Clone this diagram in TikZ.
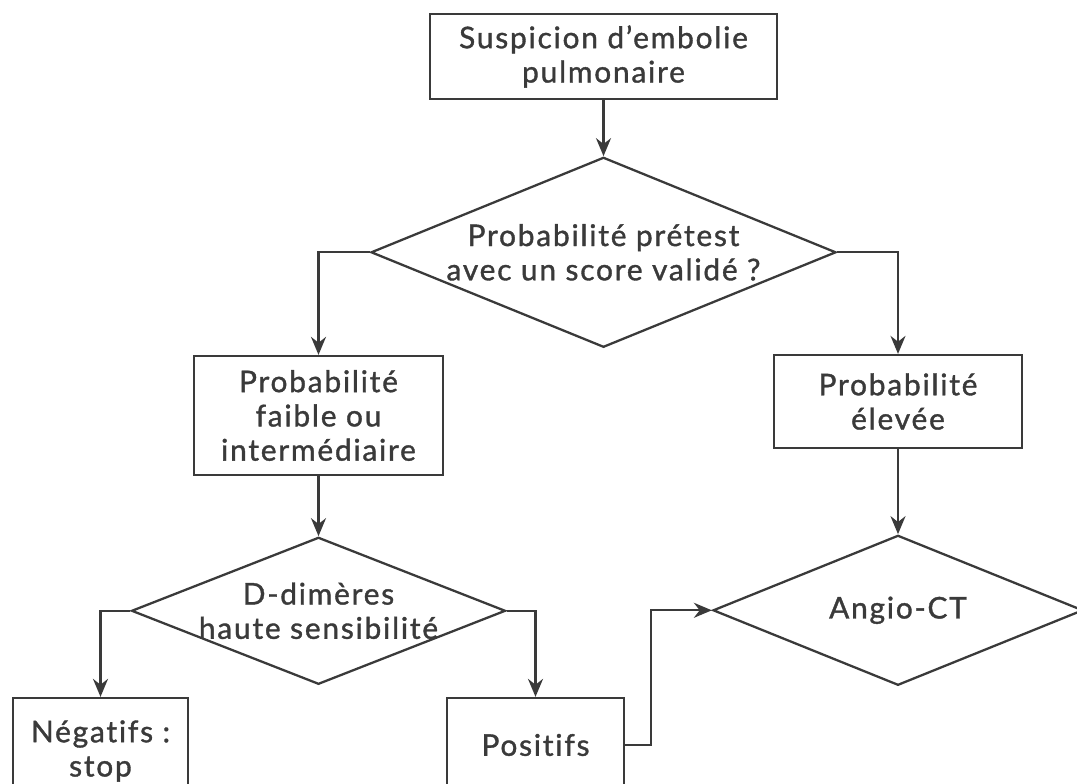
\documentclass[tikz,border=0pt]{standalone}
\usepackage{fontspec}
\setmainfont{Lato}[Ligatures=NoCommon, LetterSpace=6, FakeBold=1.2]
\usetikzlibrary{arrows.meta,positioning,shapes.geometric}

\definecolor{trait}{HTML}{3A3A3A}

\begin{document}
\begin{tikzpicture}[
        font=\fontsize{17}{19.5}\selectfont,
        etape/.style={draw=trait, line width=1.3pt, align=center, text=trait, inner sep=2pt},
        decision/.style={draw=trait, line width=1.3pt, diamond, align=center, text=trait, inner xsep=-18pt, inner ysep=0pt},
        fleche/.style={-{Stealth[length=3.6mm, width=3mm]}, draw=trait, line width=1.3pt}
    ]
        \useasboundingbox (0,0) rectangle (21.54,-15.66);
        \clip (0,0) rectangle (21.54,-15.66);

        \node[etape, minimum width=6.94cm, minimum height=1.7cm] (susp) at (12.07,-1.13) {Suspicion d’embolie\\pulmonaire};
        \node[decision, minimum width=9.3cm, minimum height=3.8cm, aspect=2.45, below=1.12cm of susp] (prob) {Probabilité prétest\\avec un score validé~?};

        \node[etape, minimum width=4.98cm, minimum height=2.38cm] (faible) at (6.37,-8.31) {Probabilité\\faible ou\\intermédiaire};
        \node[etape, minimum width=4.96cm, minimum height=1.86cm] (elevee) at (17.96,-8.03) {Probabilité\\élevée};

        \node[decision, minimum width=7.48cm, minimum height=2.94cm, aspect=2.54, below=1.2cm of faible] (ddim) {D-dimères\\haute sensibilité};
        \node[decision, minimum width=7.4cm, minimum height=3cm, aspect=2.47, below=1.7cm of elevee] (angio) {Angio-CT};

        \node[etape, minimum width=3.5cm, minimum height=2.12cm] (neg) at (2.01,-15.02) {Négatifs~:\\stop};
        \node[etape, minimum width=3.54cm, minimum height=1.88cm] (pos) at (10.71,-14.9) {Positifs};

        \draw[fleche] (susp) -- (prob);
        \draw[fleche] (prob.west) -| (faible);
        \draw[fleche] (prob.east) -| (elevee);
        \draw[fleche] (faible) -- (ddim);
        \draw[fleche] (elevee) -- (angio);
        \draw[fleche] (ddim.west) -| (neg);
        \draw[fleche] (ddim.east) -| (pos);
        \draw[fleche] (pos.east) -- ++(0.52,0) |- (angio.west);
    \end{tikzpicture}
\end{document}
